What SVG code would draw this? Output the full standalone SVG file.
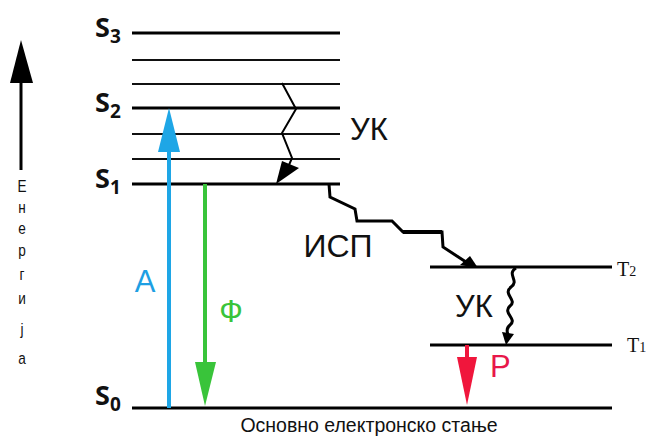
<svg xmlns="http://www.w3.org/2000/svg" width="650" height="439" viewBox="0 0 650 439">
<style>
.lvl{stroke:#000;stroke-width:3}
.sub{stroke:#111;stroke-width:2}
.s{font-family:"Open Sans","DejaVu Sans",sans-serif;font-weight:bold;font-size:27px;fill:#111}
.ss{font-size:19px}
.lab{font-family:"Liberation Sans",Arial,sans-serif;font-size:31px}
.t{font-family:"Liberation Serif","Times New Roman",serif;font-size:20px;fill:#111}
.en{font-family:"Liberation Sans",Arial,sans-serif;font-size:17px;fill:#111;text-anchor:middle}
</style>
<rect width="650" height="439" fill="#fff"/>
<g id="energy-axis">
<line x1="21" y1="80" x2="21" y2="170" stroke="#000" stroke-width="3"/>
<polygon points="21,40 10,83 33,83" fill="#000"/>
<g transform="translate(22 0) scale(0.8 1)">
<text class="en" x="0" y="192">Е</text>
<text class="en" x="0" y="213">н</text>
<text class="en" x="0" y="234">е</text>
<text class="en" x="0" y="256">р</text>
<text class="en" x="0" y="280">г</text>
<text class="en" x="0" y="304">и</text>
<text class="en" x="0" y="335">ј</text>
<text class="en" x="0" y="364">а</text>
</g>
</g>
<g id="S3"><line class="lvl" x1="132" y1="33" x2="340" y2="33"/><text class="s" x="95" y="37">S<tspan class="ss" dy="6">3</tspan></text></g>
<g id="v1"><line class="sub" x1="132" y1="60" x2="340" y2="60"/></g>
<g id="v2"><line class="sub" x1="132" y1="84" x2="340" y2="84"/></g>
<g id="S2"><line class="lvl" x1="132" y1="108" x2="340" y2="108"/><text class="s" x="95" y="112">S<tspan class="ss" dy="6">2</tspan></text></g>
<g id="v3"><line class="sub" x1="132" y1="134" x2="340" y2="134"/></g>
<g id="v4"><line class="sub" x1="132" y1="159" x2="340" y2="159"/></g>
<g id="S1"><line class="lvl" x1="132" y1="184" x2="340" y2="184"/><text class="s" x="95" y="188">S<tspan class="ss" dy="6">1</tspan></text></g>
<g id="S0"><line class="lvl" x1="132" y1="408" x2="612" y2="408"/><text class="s" x="95" y="405">S<tspan class="ss" dy="6">0</tspan></text>
<text x="369" y="432" font-family="Liberation Sans,Arial,sans-serif" font-size="19.5" fill="#111" text-anchor="middle">Основно електронско стање</text></g>
<g id="T2"><line class="lvl" x1="430" y1="267" x2="612" y2="267"/><text class="t" x="617" y="276">T<tspan font-size="14">2</tspan></text></g>
<g id="T1"><line class="lvl" x1="430" y1="345" x2="612" y2="345"/><text class="t" x="627" y="352">T<tspan font-size="14">1</tspan></text></g>
<g id="connectors">
<g id="absorption">
<line x1="169" y1="408" x2="169" y2="145" stroke="#1ea6e6" stroke-width="4"/>
<polygon points="169,108 158,152 180,152" fill="#1ea6e6"/>
<text class="lab" x="145" y="292" fill="#1e9fe3" text-anchor="middle">А</text>
</g>
<g id="fluorescence">
<line x1="205" y1="184" x2="205" y2="368" stroke="#39c43a" stroke-width="4"/>
<polygon points="205,406 195,362 216,362" fill="#39c43a"/>
<text class="lab" x="231" y="322" fill="#39c43a" text-anchor="middle">Ф</text>
</g>
<g id="phosphorescence">
<line x1="467" y1="345" x2="467" y2="362" stroke="#f0163c" stroke-width="4"/>
<polygon points="467,405 457,357 477,357" fill="#f0163c"/>
<text class="lab" x="490" y="377" fill="#e8174a">Р</text>
</g>
<g id="ic-upper">
<polyline points="282,83 296,109 282,133 292,158 289,165" fill="none" stroke="#000" stroke-width="2"/>
<polygon points="276,184 282,161 299,168" fill="#000"/>
<text class="lab" x="350" y="140" fill="#111">УК</text>
</g>
<g id="isc">
<polyline points="329,184 330,197 355,209 357,221 392,221 403,232 442,232 443,247 466,262" fill="none" stroke="#000" stroke-width="3"/>
<line x1="403" y1="232" x2="442" y2="232" stroke="#000" stroke-width="4"/>
<polygon points="478,268 460,265 470,256" fill="#000"/>
<text x="338" y="257" font-family="Liberation Sans,Arial,sans-serif" font-size="32" fill="#111" text-anchor="middle">ИСП</text>
</g>
<g id="ic-lower">
<path d="M516,268 C506,274 520,281 511,287 C502,294 518,300 510,306 C502,313 518,319 510,325 C504,330 509,334 508,336" fill="none" stroke="#000" stroke-width="3"/>
<polygon points="506,345 502,332 514,334" fill="#000"/>
<text class="lab" x="474" y="317" fill="#111" text-anchor="middle">УК</text>
</g>
</g>
</svg>
